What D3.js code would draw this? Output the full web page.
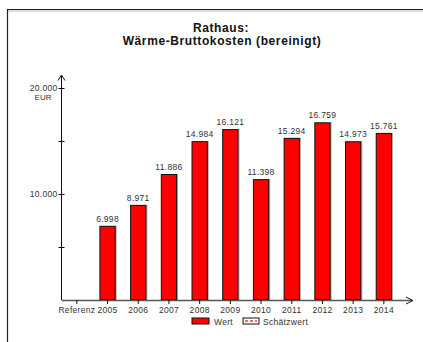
<!DOCTYPE html>
<html><head><meta charset="utf-8">
<script src="https://cdn.jsdelivr.net/npm/d3@7"></script>
<style>body{margin:0;background:#fff}svg{display:block;font-family:"Liberation Sans",Arial,sans-serif}</style>
</head><body>
<svg id="c" width="423" height="342"></svg>
<script>
const categories = ["Referenz","2005","2006","2007","2008","2009","2010","2011","2012","2013","2014"];
const values = [null,6998,8971,11886,14984,16121,11398,15294,16759,14973,15761];
const majorTicks = [10000,20000];
const minorTicks = [5000,15000];
const titleLines = ["Rathaus:","Wärme-Bruttokosten (bereinigt)"];
const unit = "EUR";
const legendLabels = ["Wert","Schätzwert"];

const fmt = v => d3.format(",")(v).replace(/,/g,".");
const svg = d3.select("#c");
const x0 = 61.5, baseY = 300;
const x = d3.scaleBand().domain(categories).range([x0,399.2]).paddingInner(0.47).paddingOuter(0.235);
const y = d3.scaleLinear().domain([0,20000]).range([baseY,88]);

// frame
svg.append("line").attr("x1",7.5).attr("x2",423).attr("y1",11).attr("y2",11).attr("stroke","#bbb").attr("stroke-width",1);
svg.append("line").attr("x1",7.5).attr("x2",423).attr("y1",9.5).attr("y2",9.5).attr("stroke","#222").attr("stroke-width",1.2);
svg.append("line").attr("x1",7.5).attr("x2",7.5).attr("y1",9).attr("y2",342).attr("stroke","#222").attr("stroke-width",1.2);

// title
svg.append("text").attr("x",221).attr("y",32).attr("text-anchor","middle").attr("letter-spacing",0.6)
  .attr("font-size",12).attr("font-weight","bold").attr("fill","#111").text(titleLines[0]);
svg.append("text").attr("x",222).attr("y",45).attr("text-anchor","middle").attr("letter-spacing",0.6)
  .attr("font-size",12).attr("font-weight","bold").attr("fill","#111").text(titleLines[1]);

// bars
const bars = categories.map((c,i)=>({c,v:values[i]})).filter(d=>d.v!=null);
svg.append("g").selectAll("rect.sh").data(bars).join("rect")
  .attr("x",d=>x(d.c)+1).attr("y",d=>y(d.v)).attr("width",x.bandwidth())
  .attr("height",d=>baseY-y(d.v)).attr("fill","#aaa");
svg.append("g").selectAll("rect.b").data(bars).join("rect")
  .attr("x",d=>x(d.c)+0.5).attr("y",d=>y(d.v)+0.5).attr("width",x.bandwidth()-1)
  .attr("height",d=>baseY-y(d.v)-1).attr("fill","#ff0000").attr("stroke","#111").attr("stroke-width",1);
svg.append("g").selectAll("text").data(bars).join("text")
  .attr("x",d=>x(d.c)+x.bandwidth()/2).attr("y",d=>y(d.v)-4).attr("text-anchor","middle").attr("letter-spacing",0.3)
  .attr("font-size",8.5).attr("fill","#333").text(d=>fmt(d.v));

// y axis
svg.append("line").attr("x1",x0).attr("x2",x0).attr("y1",76).attr("y2",baseY).attr("stroke","#111");
svg.append("path").attr("d",`M${x0-3.5},${80.5}L${x0},${75}L${x0+3.5},${80.5}`).attr("fill","none").attr("stroke","#111");
svg.selectAll("line.yt").data(majorTicks.concat(minorTicks)).join("line")
  .attr("x1",x0-3).attr("x2",x0+3).attr("y1",d=>Math.round(y(d))+0.5).attr("y2",d=>Math.round(y(d))+0.5).attr("stroke","#111");
svg.selectAll("text.yl").data(majorTicks).join("text")
  .attr("x",x0-4).attr("y",d=>y(d)+3).attr("text-anchor","end").attr("letter-spacing",0.3).attr("font-size",8.5).attr("fill","#333").text(d=>fmt(d));
svg.append("text").attr("x",43).attr("y",y(20000)+12).attr("text-anchor","middle").attr("font-size",8).attr("fill","#333").text(unit);

// x axis
svg.append("line").attr("x1",x0).attr("x2",412).attr("y1",baseY+0.5).attr("y2",baseY+0.5).attr("stroke","#555").attr("stroke-width",1.3);
svg.append("path").attr("d",`M${406},${baseY-3}L${413},${baseY+0.5}L${406},${baseY+4}`).attr("fill","none").attr("stroke","#111");
const xa = svg.append("g").attr("transform",`translate(0,${baseY})`)
  .call(d3.axisBottom(x).tickSize(4).tickPadding(3));
xa.select(".domain").remove();
xa.selectAll("line").attr("stroke","#111");
xa.selectAll("text").attr("font-size",8.5).attr("fill","#333").attr("letter-spacing",0.3).attr("font-family","Liberation Sans, Arial, sans-serif");

// legend
const ly = 323;
svg.append("rect").attr("x",192).attr("y",ly-5).attr("width",17).attr("height",6).attr("fill","#ff0000").attr("stroke","#111");
svg.append("text").attr("x",214).attr("y",ly+2).attr("font-size",8.5).attr("letter-spacing",0.3).attr("fill","#333").text(legendLabels[0]);
svg.append("rect").attr("x",243).attr("y",ly-5).attr("width",16).attr("height",6).attr("fill","#fff").attr("stroke","#111");
svg.append("line").attr("x1",245).attr("x2",257).attr("y1",ly-2).attr("y2",ly-2).attr("stroke","#f66").attr("stroke-width",2).attr("stroke-dasharray","3,2");
svg.append("text").attr("x",263).attr("y",ly+2).attr("font-size",8.5).attr("letter-spacing",0.3).attr("fill","#333").text(legendLabels[1]);
</script>
</body></html>
